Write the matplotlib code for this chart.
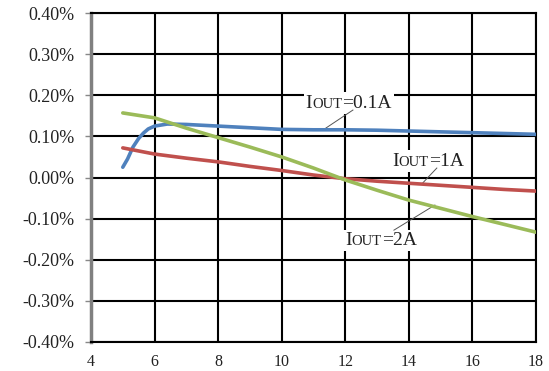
import matplotlib
matplotlib.use("Agg")
import matplotlib.pyplot as plt
from matplotlib.offsetbox import TextArea, HPacker, AnnotationBbox

# Data (y in percent)
x_01 = [5, 5.15, 5.32, 5.5, 5.65, 5.8, 6, 6.4, 7, 8, 9, 10, 11, 12, 13, 14, 15, 16, 17, 18]
y_01 = [0.025, 0.045, 0.074, 0.095, 0.108, 0.118, 0.125, 0.130, 0.129, 0.125, 0.121, 0.117,
        0.116, 0.116, 0.115, 0.113, 0.111, 0.109, 0.107, 0.105]
x_1 = [5, 6, 7, 8, 9, 10, 11, 12, 13, 14, 15, 16, 17, 18]
y_1 = [0.072, 0.057, 0.047, 0.038, 0.027, 0.017, 0.006, -0.003, -0.009, -0.014, -0.019,
       -0.024, -0.029, -0.033]
x_2 = [5, 6, 7, 8, 9, 10, 11, 12, 13, 14, 15, 16, 17, 18]
y_2 = [0.157, 0.145, 0.120, 0.097, 0.074, 0.050, 0.023, -0.006, -0.031, -0.055, -0.075,
       -0.095, -0.114, -0.133]

x_ticks = [4, 6, 8, 10, 12, 14, 16, 18]
y_ticks = [-0.4, -0.3, -0.2, -0.1, 0.0, 0.1, 0.2, 0.3, 0.4]
y_labels = ["-0.40%", "-0.30%", "-0.20%", "-0.10%", "0.00%", "0.10%", "0.20%", "0.30%", "0.40%"]

SERIF = "Liberation Serif"

fig = plt.figure(figsize=(5.49, 3.71), dpi=100)
ax = fig.add_axes([91/549, 1-342/371, (536-91)/549, (342-13)/371])
ax.set_xlim(4, 18)
ax.set_ylim(-0.4, 0.4)
ax.set_xticks(x_ticks)
ax.set_yticks(y_ticks)
ax.set_yticklabels(y_labels)
for lab in ax.get_xticklabels():
    lab.set_fontfamily(SERIF)
    lab.set_fontsize(11.5)
    lab.set_color("#222222")
for lab in ax.get_yticklabels():
    lab.set_fontfamily(SERIF)
    lab.set_fontsize(13)
    lab.set_color("#222222")
ax.tick_params(axis="x", length=0, pad=9)
ax.tick_params(axis="y", length=4, width=1, color="#888888", pad=8)
ax.grid(True, color="black", linewidth=1.5, zorder=1)
ax.set_axisbelow(True)
for s in ["top", "right", "bottom"]:
    ax.spines[s].set_color("black")
    ax.spines[s].set_linewidth(1.5)
ax.spines["left"].set_color("#808080")
ax.spines["left"].set_linewidth(2.5)

ax.plot(x_01, y_01, color="#4F81BD", linewidth=2.6, zorder=4, solid_capstyle="round")
ax.plot(x_1, y_1, color="#C0504D", linewidth=2.6, zorder=4, solid_capstyle="round")
ax.plot(x_2, y_2, color="#9BBB59", linewidth=2.6, zorder=4, solid_capstyle="round")

def label(ax, value, xy):
    parts = [TextArea("I", textprops=dict(size=14, family=SERIF, color="#222222")),
             TextArea("OUT", textprops=dict(size=10.5, family=SERIF, color="#222222")),
             TextArea("=" + value, textprops=dict(size=14, family=SERIF, color="#222222"))]
    pk = HPacker(children=parts, align="baseline", pad=0, sep=0)
    ab = AnnotationBbox(pk, xy, xycoords="data", frameon=True, pad=0.15,
                        bboxprops=dict(fc="white", ec="none"), box_alignment=(0.5, 0.5),
                        zorder=2)
    ax.add_artist(ab)

label(ax, "0.1A", (12.11, 0.181))
label(ax, "1A", (14.6, 0.040))
label(ax, "2A", (13.12, -0.154))

lead = dict(color="#555555", linewidth=0.7, zorder=3)
ax.plot([11.3, 12.24], [0.1156, 0.164], **lead)
ax.plot([14.44, 14.88], [-0.013, 0.023], **lead)
ax.plot([13.53, 14.82], [-0.128, -0.067], **lead)

fig.savefig("out.png", dpi=100)
